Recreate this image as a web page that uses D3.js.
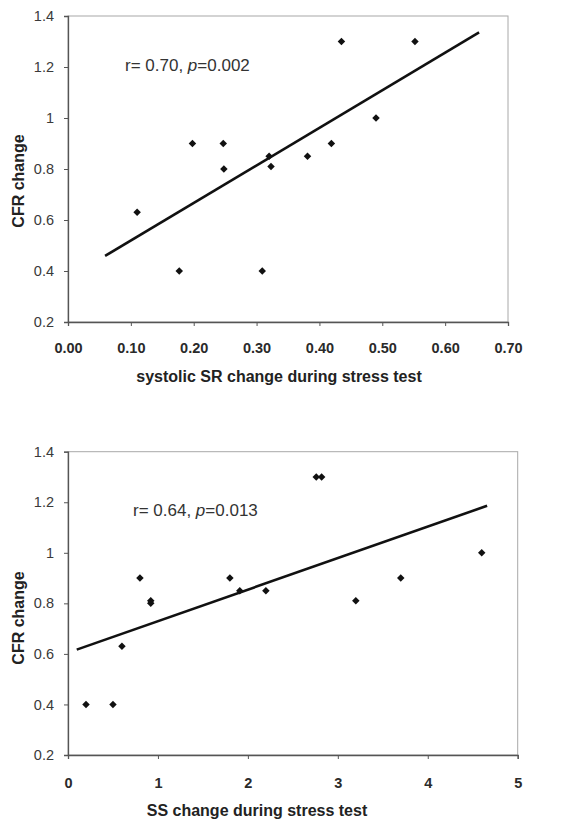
<!DOCTYPE html>
<html>
<head>
<meta charset="utf-8">
<script src="https://cdn.jsdelivr.net/npm/d3@7"></script>
<style>
  body { margin: 0; background: #fff; }
  svg text { font-family: "Liberation Sans", Arial, sans-serif; }
</style>
</head>
<body>
<svg id="chart" width="578" height="820"></svg>
<script>
// Panel A: systolic SR change vs CFR change
const srChange = [0.11, 0.177, 0.198, 0.247, 0.248, 0.309, 0.320, 0.323, 0.381, 0.419, 0.435, 0.49, 0.552];
const srCfr    = [0.63, 0.40, 0.90, 0.90, 0.80, 0.40, 0.85, 0.81, 0.85, 0.90, 1.30, 1.00, 1.30];
const srFitX = [0.059, 0.654];
const srFitY = [0.459, 1.336];
const srTicks = [0, 0.1, 0.2, 0.3, 0.4, 0.5, 0.6, 0.7];

// Panel B: SS change vs CFR change
const ssChange = [0.2, 0.5, 0.6, 0.8, 0.92, 0.92, 1.8, 1.91, 2.2, 2.76, 2.82, 3.2, 3.7, 4.6];
const ssCfr    = [0.40, 0.40, 0.63, 0.90, 0.81, 0.80, 0.90, 0.85, 0.85, 1.30, 1.30, 0.81, 0.90, 1.00];
const ssFitX = [0.097, 4.66];
const ssFitY = [0.617, 1.186];
const ssTicks = [0, 1, 2, 3, 4, 5];

const cfrTicks = [0.2, 0.4, 0.6, 0.8, 1.0, 1.2, 1.4];

const svg = d3.select('#chart');

function drawPanel(opt) {
    const g = svg.append('g');
    const x = d3.scaleLinear().domain(opt.xDomain).range([opt.left, opt.right]);
    const y = d3.scaleLinear().domain([0.2, 1.4]).range([opt.bottom, opt.top]);

    // light frame round the plot area
    g.append('rect')
        .attr('x', opt.left).attr('y', opt.top)
        .attr('width', opt.right - opt.left).attr('height', opt.bottom - opt.top)
        .attr('fill', 'none').attr('stroke', '#a8a8a8').attr('stroke-width', 1);

    // y axis
    const ya = g.append('g')
        .attr('transform', `translate(${opt.left},0)`)
        .call(d3.axisLeft(y).tickValues(cfrTicks).tickSize(4).tickPadding(10)
            .tickFormat(d => String(+d.toFixed(1))));
    ya.select('.domain').attr('stroke', '#555').attr('stroke-width', 1.3);
    ya.selectAll('.tick line').attr('stroke', '#555');
    ya.selectAll('.tick text')
        .style('font-size', '14.5px').attr('fill', '#3a3a3a');

    // x axis
    const xa = g.append('g')
        .attr('transform', `translate(0,${opt.bottom})`)
        .call(d3.axisBottom(x).tickValues(opt.xTicks).tickSize(4).tickPadding(opt.xPad)
            .tickFormat(opt.xFormat));
    xa.select('.domain').attr('stroke', '#555').attr('stroke-width', 1.3);
    xa.selectAll('.tick line').attr('stroke', '#555');
    xa.selectAll('.tick text')
        .style('font-size', '14.5px').style('font-weight', 'bold').attr('fill', '#2a2a2a');

    // regression line
    g.append('line')
        .attr('x1', x(opt.fitX[0])).attr('y1', y(opt.fitY[0]))
        .attr('x2', x(opt.fitX[1])).attr('y2', y(opt.fitY[1]))
        .attr('stroke', '#111').attr('stroke-width', 2.6);

    // diamond markers
    const sym = d3.symbol(d3.symbolSquare, 28);
    g.selectAll('path.pt')
        .data(opt.xs.map((v, i) => [v, opt.ys[i]]))
        .enter().append('path')
        .attr('class', 'pt')
        .attr('d', sym)
        .attr('transform', d => `translate(${x(d[0])},${y(d[1])}) rotate(45)`)
        .attr('fill', '#111');

    // correlation note
    const note = g.append('text')
        .attr('x', opt.noteX).attr('y', opt.noteY)
        .style('font-size', '17px').attr('fill', '#333');
    note.append('tspan').text(opt.noteR + ', ');
    note.append('tspan').style('font-style', 'italic').text('p');
    note.append('tspan').text('=' + opt.noteP);

    // axis titles
    g.append('text')
        .attr('transform', `translate(${opt.yLabelX},${opt.yLabelY}) rotate(-90)`)
        .attr('text-anchor', 'middle')
        .style('font-size', '16px').style('font-weight', 'bold').attr('fill', '#222')
        .text('CFR change');

    g.append('text')
        .attr('x', opt.xLabelX).attr('y', opt.xLabelY)
        .attr('text-anchor', 'middle')
        .style('font-size', '16px').style('font-weight', 'bold').attr('fill', '#222')
        .text(opt.xLabel);
}

drawPanel({
    xs: srChange, ys: srCfr, fitX: srFitX, fitY: srFitY,
    xDomain: [0, 0.7], xTicks: srTicks, xFormat: d3.format('.2f'), xPad: 17,
    left: 68, right: 508, top: 16, bottom: 322,
    noteX: 125, noteY: 71, noteR: 'r= 0.70', noteP: '0.002',
    yLabelX: 24, yLabelY: 181,
    xLabelX: 279, xLabelY: 382,
    xLabel: 'systolic SR change during stress test'
});

drawPanel({
    xs: ssChange, ys: ssCfr, fitX: ssFitX, fitY: ssFitY,
    xDomain: [0, 5], xTicks: ssTicks, xFormat: d3.format('d'), xPad: 19,
    left: 68, right: 517.7, top: 451.7, bottom: 755,
    noteX: 133, noteY: 516, noteR: 'r= 0.64', noteP: '0.013',
    yLabelX: 24, yLabelY: 618,
    xLabelX: 257, xLabelY: 816,
    xLabel: 'SS change during stress test'
});
</script>
</body>
</html>
